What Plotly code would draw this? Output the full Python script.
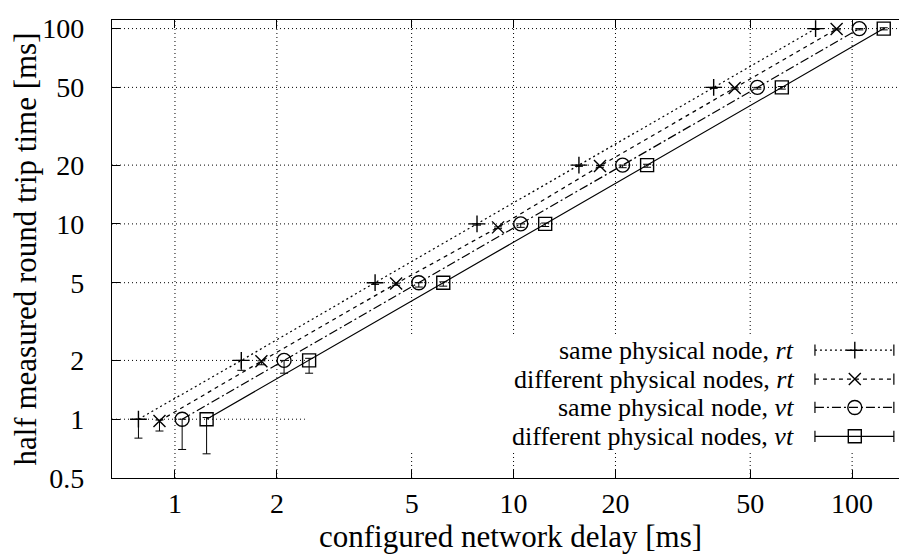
import plotly.graph_objects as go

# ---------------- data ----------------
tick_vals = [0.5, 1, 2, 5, 10, 20, 50, 100]
x_tick_vals = [1, 2, 5, 10, 20, 50, 100]

series_names = [
    "same physical node, <i>rt</i>",
    "different physical nodes, <i>rt</i>",
    "same physical node, <i>vt</i>",
    "different physical nodes, <i>vt</i>",
]

rt_same_x = [0.78, 1.57, 3.9, 7.8, 15.6, 39.0, 78.0]
rt_same_y = [1.0, 2.0, 5.0, 10.0, 20.0, 50.0, 100.0]
rt_same_minus = [0.2, 0.22, 0.1, 0.15, 0.3, 0.6, 1.0]
rt_same_plus = [0.0, 0.0, 0.0, 0.0, 0.0, 0.0, 0.0]

rt_diff_x = [0.90, 1.80, 4.5, 9.0, 18.0, 45.0, 90.0]
rt_diff_y = [0.98, 1.98, 4.95, 9.6, 19.8, 49.6, 99.5]
rt_diff_minus = [0.11, 0.08, 0.1, 0.15, 0.3, 0.6, 1.0]
rt_diff_plus = [0.01, 0.01, 0.02, 0.05, 0.1, 0.2, 0.3]

vt_same_x = [1.05, 2.10, 5.25, 10.5, 21.0, 52.5, 105.0]
vt_same_y = [1.0, 2.0, 5.0, 10.0, 20.0, 50.0, 100.0]
vt_same_minus = [0.30, 0.28, 0.25, 0.4, 0.6, 1.0, 1.5]
vt_same_plus = [0.0, 0.0, 0.0, 0.0, 0.0, 0.0, 0.0]

vt_diff_x = [1.24, 2.49, 6.2, 12.4, 24.8, 62.0, 124.0]
vt_diff_y = [1.0, 2.0, 5.0, 10.0, 20.0, 50.0, 100.0]
vt_diff_minus = [0.335, 0.28, 0.2, 0.3, 0.5, 1.0, 1.5]
vt_diff_plus = [0.02, 0.05, 0.05, 0.1, 0.2, 0.5, 1.0]

# ---------------- styles ----------------
FONT = "Liberation Serif"
TICK_SIZE = 28
TITLE_SIZE = 31
KEY_SIZE = 26
X_RANGE = [-0.186, 2.168]   # log10 range
Y_RANGE = [-0.301, 2.044]
styles = [
    dict(dash="2px,3px", symbol="cross-thin", size=12),
    dict(dash="4px,4px", symbol="x-thin", size=12),
    dict(dash="9px,3px,2px,3px", symbol="circle-open", size=14),
    dict(dash="solid", symbol="square-open", size=13),
]
data = [
    (rt_same_x, rt_same_y, rt_same_minus, rt_same_plus),
    (rt_diff_x, rt_diff_y, rt_diff_minus, rt_diff_plus),
    (vt_same_x, vt_same_y, vt_same_minus, vt_same_plus),
    (vt_diff_x, vt_diff_y, vt_diff_minus, vt_diff_plus),
]


def fx(f):
    """plot-area fraction -> log-axis value (for key placement)"""
    return 10 ** (X_RANGE[0] + f * (X_RANGE[1] - X_RANGE[0]))


def fy(f):
    return 10 ** (Y_RANGE[0] + f * (Y_RANGE[1] - Y_RANGE[0]))


fig = go.Figure()

# key box region (plot-area fractions)
KEY_X0, KEY_X1, KEY_Y0, KEY_Y1 = 0.242, 1.0, 0.056, 0.312

# dotted grid (drawn as the lowest layer), then opaque key box over it
grid_style = dict(color="black", width=1, dash="1px,3px")
gx, gy = [], []
for v in x_tick_vals:
    gx += [v, v, None]
    gy += [fy(0), fy(1), None]
gx2, gy2 = [], []
for v in tick_vals[1:]:
    gx2 += [fx(0), fx(1), None]
    gy2 += [v, v, None]
fig.add_trace(go.Scatter(x=gx + gx2, y=gy + gy2, mode="lines", line=grid_style,
                         showlegend=False, hoverinfo="skip", connectgaps=False))
fig.add_trace(go.Scatter(
    x=[fx(KEY_X0), fx(KEY_X1), fx(KEY_X1), fx(KEY_X0), fx(KEY_X0)],
    y=[fy(KEY_Y0), fy(KEY_Y0), fy(KEY_Y1), fy(KEY_Y1), fy(KEY_Y0)],
    mode="none", fill="toself", fillcolor="white", showlegend=False, hoverinfo="skip"))

for (xs, ys, mn, pl), st, name in zip(data, styles, series_names):
    fig.add_trace(go.Scatter(
        x=xs, y=ys, mode="lines+markers", name=name, showlegend=False,
        line=dict(color="black", width=1.2, dash=st["dash"]),
        marker=dict(symbol=st["symbol"], size=st["size"], color="black",
                    line=dict(color="black", width=1.4)),
        error_y=dict(type="data", symmetric=False, array=pl, arrayminus=mn,
                     color="black", thickness=1, width=4),
    ))

# manual key (gnuplot style: text right, sample on the right)
key_rows_y = [0.279, 0.216, 0.154, 0.091]
key_x0, key_x1, key_xc, key_text_x = 0.882, 0.981, 0.932, 0.857
for ry, st, name in zip(key_rows_y, styles, series_names):
    fig.add_trace(go.Scatter(
        x=[fx(key_x0), fx(key_x1)], y=[fy(ry), fy(ry)], mode="lines",
        line=dict(color="black", width=1.2, dash=st["dash"]), showlegend=False,
        hoverinfo="skip"))
    fig.add_trace(go.Scatter(
        x=[fx(key_x0), fx(key_x1)], y=[fy(ry), fy(ry)], mode="markers",
        marker=dict(symbol="line-ns", size=8, line=dict(color="black", width=1.2)),
        showlegend=False, hoverinfo="skip"))
    fig.add_trace(go.Scatter(
        x=[fx(key_xc)], y=[fy(ry)], mode="markers",
        marker=dict(symbol=st["symbol"], size=st["size"], color="black",
                    line=dict(color="black", width=1.4)),
        showlegend=False, hoverinfo="skip"))
    fig.add_annotation(x=key_text_x, y=ry, xref="paper", yref="paper",
                       text=name, showarrow=False, xanchor="right", yanchor="middle",
                       borderpad=0,
                       font=dict(family=FONT, size=KEY_SIZE, color="black"))

axis_common = dict(
    type="log", showline=True, linecolor="black", linewidth=1.2, mirror="ticks",
    ticks="inside", ticklen=8, tickwidth=1, tickcolor="black",
    showgrid=False, zeroline=False,
    tickfont=dict(family=FONT, size=TICK_SIZE, color="black"),
)

fig.update_layout(
    width=907, height=554,
    margin=dict(l=104, r=5, t=8, b=84),
    paper_bgcolor="white", plot_bgcolor="white",
    font=dict(family=FONT, color="black"),
    xaxis=dict(axis_common, range=X_RANGE, tickvals=x_tick_vals,
               ticktext=[str(v) for v in x_tick_vals], ticklabelstandoff=0,
               title=dict(text="configured network delay [ms]",
                          font=dict(family=FONT, size=TITLE_SIZE), standoff=0)),
    yaxis=dict(axis_common, range=Y_RANGE, tickvals=tick_vals,
               ticktext=[str(v) for v in tick_vals], ticklabelstandoff=21,
               title=dict(text="half measured round trip time [ms]",
                          font=dict(family=FONT, size=TITLE_SIZE), standoff=0)),
)

fig.write_html("out.html")
